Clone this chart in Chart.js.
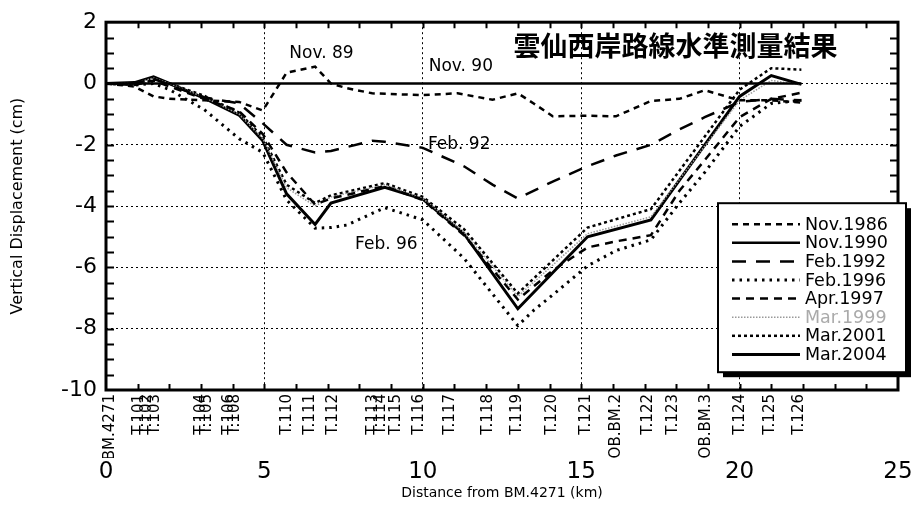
<!DOCTYPE html>
<html>
<head>
<meta charset="utf-8">
<script src="https://cdn.jsdelivr.net/npm/chart.js@4/dist/chart.umd.min.js"></script>
<style>
    html, body { margin: 0; padding: 0; background: #fff; }
    #wrap { width: 920px; height: 505px; }
</style>
</head>
<body>
<div id="wrap"><canvas id="levelChart" width="920" height="505"></canvas></div>
<script>

// distances (km from BM.4271) of the line vertices
var distances = [0, 0.9, 1.5, 2.0, 3.1, 4.2, 4.95, 5.7, 6.6, 7.1, 7.6, 8.4, 8.8, 10.0, 11.1, 11.3, 12.2, 13.0, 13.5, 14.1, 15.2, 16.1, 17.2, 18.1, 18.9, 20.0, 21.0, 21.95];

// vertical displacement (cm), null = no vertex there
var nov1986 = [0, -0.1, -0.42, -0.5, -0.55, -0.6, -0.88, 0.35, 0.55, 0.0, -0.15, -0.32, null, -0.38, -0.32, null, -0.53, -0.32, -0.65, -1.07, -1.05, -1.07, -0.57, -0.5, -0.22, -0.55, -0.55, -0.62];
var nov1990 = [0, 0, 0, 0, 0, 0, 0, 0, 0, 0, 0, 0, 0, 0, 0, 0, 0, 0, 0, 0, 0, 0, 0, 0, 0, 0, 0, 0];
var feb1992 = [0, 0, 0.15, -0.05, -0.45, -0.65, -1.3, -2.0, -2.25, -2.2, null, -1.87, -1.9, -2.1, null, -2.7, -3.3, -3.75, null, -3.2, -2.7, -2.35, -2.0, -1.5, -1.1, -0.6, -0.5, -0.55];
var feb1996 = [0, -0.05, 0.0, -0.2, -0.85, -1.8, -2.25, -3.8, -4.72, -4.7, -4.62, null, -4.05, -4.45, null, -5.7, null, -7.9, -7.4, -6.9, -5.95, -5.45, -5.1, -3.9, -2.9, -1.4, -0.65, -0.55];
var apr1997 = [0, -0.05, 0.1, -0.1, -0.5, -0.9, -1.65, -2.9, -3.95, -3.75, null, null, -3.35, -3.8, null, -4.95, null, -7.05, null, -6.1, -5.35, -5.15, -4.95, -3.5, -2.5, -1.1, -0.5, -0.3];
var mar1999 = [0, 0, 0.18, 0.0, -0.45, -1.0, -1.8, -3.4, -4.0, -3.7, null, null, -3.3, -3.75, null, -4.85, null, -6.95, null, null, -4.9, null, -4.35, null, null, -0.55, 0.1, -0.05];
var mar2001 = [0, 0, 0.15, 0.0, -0.4, -0.95, -1.75, -3.3, -3.9, -3.65, null, null, -3.25, -3.7, null, -4.75, null, -6.85, null, null, -4.7, null, -4.1, null, null, -0.2, 0.5, 0.45];
var mar2004 = [0, 0.03, 0.22, 0.0, -0.48, -1.03, -1.87, -3.6, -4.6, -3.9, null, null, -3.39, -3.77, null, -4.9, null, -7.35, null, null, -5.0, null, -4.45, null, null, -0.42, 0.26, -0.03];

// benchmark names and their distances along the route
var stationNames = ["BM.4271", "T.101", "T.102", "T.103", "T.104", "T.105", "T.106", "T.108", "T.110", "T.111", "T.112",
    "T.113", "T.114", "T.115", "T.116", "T.117", "T.118", "T.119", "T.120", "T.121", "OB.BM.2", "T.122", "T.123",
    "OB.BM.3", "T.124", "T.125", "T.126"];
var stationKm = [0.12, 1.04, 1.29, 1.55, 3.0, 3.19, 3.88, 4.07, 5.71, 6.44, 7.16,
    8.42, 8.68, 9.15, 9.87, 10.85, 12.05, 12.97, 14.07, 15.14, 16.09, 17.1, 17.89,
    18.93, 20.03, 20.95, 21.89];

var xTicks = [0, 5, 10, 15, 20, 25];
var yTicks = [-10, -8, -6, -4, -2, 0, 2];

var chartTitle = "雲仙西岸路線水準測量結果";
var notes = [
    { text: "Nov. 89", x: 6.8, y: 0.97 },
    { text: "Nov. 90", x: 11.2, y: 0.55 },
    { text: "Feb. 92", x: 11.15, y: -2.0 },
    { text: "Feb. 96", x: 8.85, y: -5.26 }
];

var fontName = '"DejaVu Sans", Verdana, sans-serif';

function toPoints(values) {
    return distances.map(function(d, i) { return { x: d, y: values[i] }; });
}

function series(label, values, color, width, dash) {
    return {
        label: label,
        data: toPoints(values),
        borderColor: color,
        backgroundColor: color,
        borderWidth: width,
        borderDash: dash,
        pointRadius: 0,
        fill: false,
        tension: 0
    };
}

/**
 *  Frame, inner ticks, text notes, title and the boxed legend.
 */
var decorations = {
    id: 'decorations',
    afterDatasetsDraw: function(chart) {
        var ctx = chart.ctx;
        var area = chart.chartArea;
        var xs = chart.scales.x;
        var ys = chart.scales.y;
        ctx.save();

        // inner ticks
        ctx.strokeStyle = '#000';
        ctx.lineWidth = 2;
        ctx.setLineDash([]);
        ctx.beginPath();
        for (var k = 1; k < 25; k++) {
            var px = Math.round(xs.getPixelForValue(k)) + 0.5;
            ctx.moveTo(px, area.bottom); ctx.lineTo(px, area.bottom - 6);
            ctx.moveTo(px, area.top); ctx.lineTo(px, area.top + 6);
        }
        for (var v = -9.5; v < 2; v += 0.5) {
            var py = Math.round(ys.getPixelForValue(v)) + 0.5;
            ctx.moveTo(area.left, py); ctx.lineTo(area.left + 8, py);
            ctx.moveTo(area.right, py); ctx.lineTo(area.right - 8, py);
        }
        ctx.stroke();

        // frame
        ctx.lineWidth = 3;
        ctx.strokeRect(area.left, area.top, area.right - area.left, area.bottom - area.top);

        // notes on the curves
        ctx.fillStyle = '#000';
        ctx.font = '17px ' + fontName;
        ctx.textAlign = 'center';
        ctx.textBaseline = 'middle';
        notes.forEach(function(n) {
            ctx.fillText(n.text, xs.getPixelForValue(n.x), ys.getPixelForValue(n.y));
        });

        // title
        ctx.font = 'bold 27px "Noto Sans CJK JP", sans-serif';
        ctx.fillText(chartTitle, xs.getPixelForValue(17.98), ys.getPixelForValue(1.23));

        // legend box with shadow
        var bx = area.right - 180, by = area.top + 181, bw = 188, bh = 169;
        ctx.fillStyle = '#000';
        ctx.fillRect(bx + 5, by + 5, bw, bh);
        ctx.fillStyle = '#fff';
        ctx.fillRect(bx, by, bw, bh);
        ctx.lineWidth = 2;
        ctx.strokeStyle = '#000';
        ctx.strokeRect(bx, by, bw, bh);

        ctx.textAlign = 'left';
        ctx.font = '17.5px ' + fontName;
        chart.data.datasets.forEach(function(ds, i) {
            var ly = by + 21 + i * 18.6;
            ctx.strokeStyle = ds.borderColor;
            ctx.lineWidth = ds.borderWidth;
            ctx.setLineDash(ds.borderDash || []);
            ctx.beginPath();
            ctx.moveTo(bx + 14, ly);
            ctx.lineTo(bx + 82, ly);
            ctx.stroke();
            ctx.setLineDash([]);
            ctx.fillStyle = ds.label === 'Mar.1999' ? '#aaa' : '#000';
            ctx.fillText(ds.label, bx + 87, ly + 1);
        });
        ctx.restore();
    }
};

new Chart(document.getElementById('levelChart').getContext('2d'), {
    type: 'line',
    data: {
        datasets: [
            series('Nov.1986', nov1986, '#000', 2.5, [6, 5]),
            series('Nov.1990', nov1990, '#000', 2.5, []),
            series('Feb.1992', feb1992, '#000', 2.5, [14, 10]),
            series('Feb.1996', feb1996, '#000', 3, [2.5, 5]),
            series('Apr.1997', apr1997, '#000', 2.5, [8, 6]),
            series('Mar.1999', mar1999, '#999', 1.5, [1.5, 1.5]),
            series('Mar.2001', mar2001, '#000', 2.5, [3, 3]),
            series('Mar.2004', mar2004, '#000', 3, [])
        ]
    },
    options: {
        responsive: false,
        animation: false,
        spanGaps: true,
        layout: { padding: { left: 0, top: 18, right: 22, bottom: 0 } },
        plugins: {
            legend: { display: false },
            tooltip: { enabled: false }
        },
        scales: {
            x: {
                type: 'linear',
                position: 'bottom',
                weight: 2,
                min: 0,
                max: 25,
                afterBuildTicks: function(axis) {
                    axis.ticks = xTicks.map(function(v) { return { value: v }; });
                },
                afterFit: function(axis) { axis.height = 47; },
                ticks: {
                    color: '#000',
                    padding: 0,
                    maxRotation: 0,
                    font: { family: fontName, size: 23 }
                },
                grid: {
                    color: function(c) {
                        return (c.tick && (c.tick.value === 0 || c.tick.value === 25)) ? 'rgba(0,0,0,0)' : '#000';
                    },
                    lineWidth: 1,
                    drawTicks: false
                },
                border: { display: false, dash: [2, 3] },
                title: {
                    display: true,
                    text: 'Distance from BM.4271 (km)',
                    color: '#000',
                    padding: { top: 0, bottom: 3 },
                    font: { family: fontName, size: 14 }
                }
            },
            st: {
                type: 'linear',
                position: 'bottom',
                weight: 1,
                min: 0,
                max: 25,
                afterBuildTicks: function(axis) {
                    axis.ticks = stationKm.map(function(v) { return { value: v }; });
                },
                afterFit: function(axis) { axis.height = 68; },
                ticks: {
                    autoSkip: false,
                    minRotation: 90,
                    maxRotation: 90,
                    padding: 4,
                    color: '#000',
                    font: { family: fontName, size: 15 },
                    callback: function(value, index) { return stationNames[index]; }
                },
                grid: { display: false, drawTicks: false },
                border: { display: false }
            },
            y: {
                type: 'linear',
                min: -10,
                max: 2,
                afterBuildTicks: function(axis) {
                    axis.ticks = yTicks.map(function(v) { return { value: v }; });
                },
                afterFit: function(axis) { axis.width = 106; },
                ticks: {
                    color: '#000',
                    padding: 9,
                    font: { family: fontName, size: 22 }
                },
                grid: {
                    color: function(c) {
                        return (c.tick && (c.tick.value === -10 || c.tick.value === 2)) ? 'rgba(0,0,0,0)' : '#000';
                    },
                    lineWidth: 1,
                    drawTicks: false
                },
                border: { display: false, dash: [2, 3] },
                title: {
                    display: true,
                    text: 'Vertical Displacement (cm)',
                    color: '#000',
                    padding: { top: 8, bottom: 0 },
                    font: { family: fontName, size: 16 }
                }
            }
        }
    },
    plugins: [decorations]
});
</script>
</body>
</html>
